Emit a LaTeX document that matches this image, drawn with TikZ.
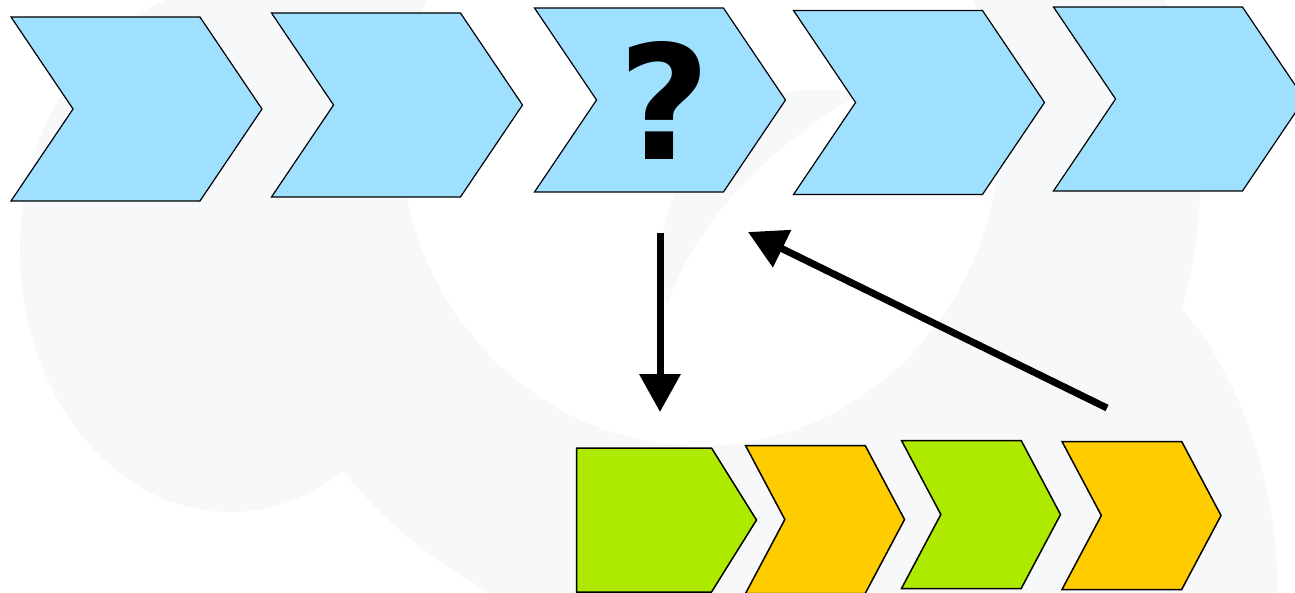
\documentclass[tikz,border=0pt]{standalone}
\usepackage{fontspec}
\usetikzlibrary{shapes.symbols,arrows.meta}
\newfontfamily\signofont{DejaVu Sans}
\definecolor{azul}{HTML}{A0E0FF}
\definecolor{verde}{HTML}{AEE900}
\definecolor{naranja}{HTML}{FFCC00}
\definecolor{fondo}{HTML}{F7F8FA}

\tikzset{
  paso/.style = {shape = signal, draw, fill = azul, line width = 1.2pt,
    signal from = west, signal to = east, signal pointer angle = 112,
    inner sep = 0pt, outer sep = 0pt, minimum width = 251pt, minimum height = 184pt},
  fase/.style = {shape = signal, draw, line width = 1.5pt,
    signal to = east, signal pointer angle = 124,
    inner sep = 0pt, outer sep = 0pt, minimum width = 159pt, minimum height = 148pt},
  flecha/.style = {line width = 7pt, -{Triangle[length = 38pt, width = 40pt]}}
}

\begin{document}
\begin{tikzpicture}[x = 1pt, y = -1pt]
  \useasboundingbox (0, 0) rectangle (1295, 593);

  \begin{scope}
    \fill[white] (0, 0) rectangle (1295, 593);
    \fill[fondo] (230, 250) ellipse [x radius = 210, y radius = 262];
    \fill[fondo] (720, 180) ellipse [x radius = 480, y radius = 470];
    \fill[fondo] (1010, 600) ellipse [x radius = 268, y radius = 380];
    \fill[white] (700, 130) ellipse [x radius = 300, y radius = 316];
    \fill[fondo] (667, 305) .. controls (640, 220) and (700, 110) .. (790, 92)
      .. controls (815, 88) and (840, 90) .. (860, 94)
      .. controls (780, 140) and (700, 210) .. (667, 305) -- cycle;
  \end{scope}

  \node[paso] (P1) at (136.5, 109) {};
  \node[paso] (P2) at (397, 105) {};
  \node[paso] (P3) at (660, 100) {};
  \node[paso] (P4) at (919, 102.5) {};
  \node[paso] (P5) at (1179, 99) {};
  \node[font = \signofont\bfseries\fontsize{159pt}{159pt}\selectfont] (Q) at (665, 100) {?};

  \node[fase, fill = verde, minimum width = 180pt, minimum height = 144pt,
    signal pointer angle = 116] (B1) at (644, 520) {};
  \node[fase, fill = naranja, signal from = west] (B2) at (825, 519.5) {};
  \node[fase, fill = verde, signal from = west] (B3) at (981, 514.5) {};
  \node[fase, fill = naranja, signal from = west] (B4) at (1141.5, 515.5) {};

  \coordinate (baja) at (660, 233);
  \coordinate (llega) at (660, 412);
  \coordinate (vuelve) at (1107, 408);
  \coordinate (retorno) at (748, 232);

  \draw[flecha] (baja) -- (llega);
  \draw[flecha] (vuelve) -- (retorno);

\end{tikzpicture}
\end{document}
